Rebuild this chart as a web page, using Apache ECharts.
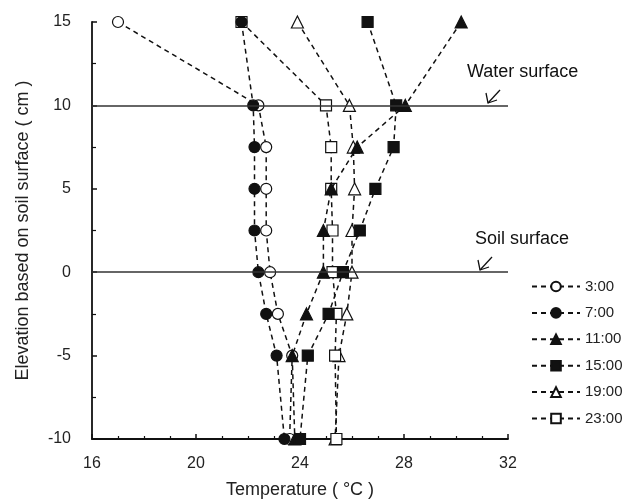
<!DOCTYPE html>
<html>
<head>
<meta charset="utf-8">
<script src="https://cdn.jsdelivr.net/npm/echarts@6/dist/echarts.min.js"></script>
<style>html,body{margin:0;padding:0;background:#fff}#c{width:636px;height:504px}</style>
</head>
<body>
<div id="c"></div>
<script>
// Elevation levels (cm)
var elevations = [15, 10, 7.5, 5, 2.5, 0, -2.5, -5, -10];
// Temperatures (°C) at each elevation
var t0300 = [17.0, 22.4, 22.7, 22.7, 22.7, 22.85, 23.15, 23.7, 23.6];
var t0700 = [21.75, 22.2, 22.25, 22.25, 22.25, 22.4, 22.7, 23.1, 23.4];
var t1100 = [30.2, 28.05, 26.2, 25.2, 24.9, 24.9, 24.25, 23.7, 23.8];
var t1500 = [26.6, 27.7, 27.6, 26.9, 26.3, 25.65, 25.1, 24.3, 24.0];
var t1900 = [23.9, 25.9, 26.05, 26.1, 26.0, 26.0, 25.8, 25.5, 25.35];
var t2300 = [21.75, 25.0, 25.2, 25.2, 25.25, 25.25, 25.4, 25.35, 25.4];
var seriesNames = ['3:00', '7:00', '11:00', '15:00', '19:00', '23:00'];
var xTicks = [16, 20, 24, 28, 32];
var yTicks = [-10, -5, 0, 5, 10, 15];

var font = 'Liberation Sans, Arial, Helvetica, sans-serif';
function pairs(t){ return t.map(function(v,i){ return [v, elevations[i]]; }); }
function mk(name, data, symbol, filled, z){
  return {
    name: name, type: 'line', data: pairs(data), z: z,
    symbol: symbol, symbolSize: symbol === 'triangle' ? 12 : 11,
    lineStyle: {color: '#111', width: 1.5, type: [5, 4]},
    itemStyle: {color: filled ? '#111' : '#fff', borderColor: '#111', borderWidth: 1.2},
    emphasis: {disabled: true}, animation: false
  };
}
var series = [
  mk(seriesNames[0], t0300, 'circle', false, 2),
  mk(seriesNames[1], t0700, 'circle', true, 4),
  mk(seriesNames[2], t1100, 'triangle', true, 3),
  mk(seriesNames[3], t1500, 'rect', true, 3),
  mk(seriesNames[4], t1900, 'triangle', false, 2),
  mk(seriesNames[5], t2300, 'rect', false, 2)
];
series[0].markLine = {
  silent: true, symbol: 'none', animation: false,
  label: {show: false},
  lineStyle: {color: '#333', width: 1.5, type: 'solid'},
  data: [{yAxis: 10}, {yAxis: 0}]
};

var chart = echarts.init(document.getElementById('c'), null, {renderer: 'canvas'});
function arrow(tx, ty){
  return [
    {type: 'polyline', shape: {points: [[tx + 12, ty - 13], [tx, ty]]}, style: {stroke: '#111', lineWidth: 1.3, fill: null}},
    {type: 'polyline', shape: {points: [[tx - 2, ty - 10], [tx, ty], [tx + 9, ty - 3]]}, style: {stroke: '#111', lineWidth: 1.3, fill: null}}
  ];
}
chart.setOption({
  backgroundColor: '#fff',
  animation: false,
  textStyle: {fontFamily: font},
  grid: {left: 92, right: 128, top: 22, bottom: 65, containLabel: false},
  xAxis: {
    type: 'value', min: xTicks[0], max: xTicks[xTicks.length - 1], interval: 4,
    name: 'Temperature ( °C )', nameLocation: 'middle', nameGap: 42,
    nameTextStyle: {fontSize: 18, color: '#222', fontFamily: font},
    axisLine: {show: true, onZero: false, lineStyle: {color: '#111', width: 1.8}},
    axisTick: {show: true, inside: true, length: 5, lineStyle: {color: '#111', width: 1.5}},
    minorTick: {show: true, splitNumber: 4, length: 3, lineStyle: {color: '#111', width: 1.2}},
    axisLabel: {fontSize: 16, color: '#222', margin: 17, fontFamily: font},
    splitLine: {show: false}
  },
  yAxis: {
    type: 'value', min: yTicks[0], max: yTicks[yTicks.length - 1], interval: 5,
    name: 'Elevation based on soil surface ( cm )', nameLocation: 'middle', nameGap: 60, nameRotate: 90,
    nameTextStyle: {fontSize: 18, color: '#222', fontFamily: font},
    axisLine: {show: true, onZero: false, lineStyle: {color: '#111', width: 1.8}},
    axisTick: {show: true, inside: true, length: 5, lineStyle: {color: '#111', width: 1.5}},
    minorTick: {show: true, splitNumber: 2, length: 4, lineStyle: {color: '#111', width: 1.2}},
    axisLabel: {fontSize: 16, color: '#222', margin: 21, fontFamily: font},
    splitLine: {show: false}
  },
  legend: {
    orient: 'vertical', left: 526, top: 274,
    itemWidth: 48, itemHeight: 12, itemGap: 11.4,
    data: seriesNames,
    textStyle: {fontSize: 15, color: '#222', fontFamily: font}
  },
  graphic: [
    {type: 'text', left: 467, top: 63, style: {text: 'Water surface', font: '18px ' + font, fill: '#111'}}
  ].concat(arrow(488, 103)).concat([
    {type: 'text', left: 475, top: 230, style: {text: 'Soil surface', font: '18px ' + font, fill: '#111'}}
  ]).concat(arrow(480, 270)),
  series: series
});
</script>
</body>
</html>
